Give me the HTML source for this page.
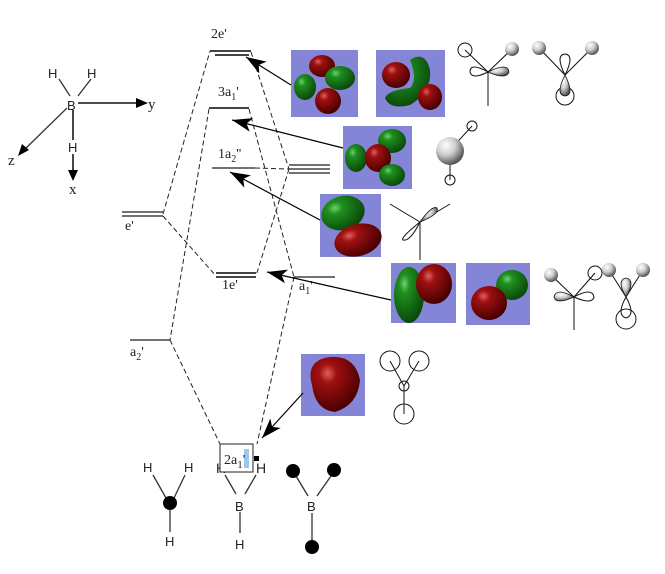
<!DOCTYPE html>
<html><head><meta charset="utf-8"><style>
html,body{margin:0;padding:0;background:#fff;}
svg{display:block;}
text{font-family:"Liberation Serif",serif;fill:#222;}
.s{font-family:"Liberation Sans",sans-serif;}
</style></head><body>
<svg width="665" height="574" viewBox="0 0 665 574" xmlns="http://www.w3.org/2000/svg">
<defs>
<radialGradient id="r" cx="35%" cy="30%" r="70%"><stop offset="0" stop-color="#e06060"/><stop offset="0.25" stop-color="#a01010"/><stop offset="1" stop-color="#4a0000"/></radialGradient>
<radialGradient id="g" cx="35%" cy="30%" r="70%"><stop offset="0" stop-color="#70d070"/><stop offset="0.25" stop-color="#1f8f1f"/><stop offset="1" stop-color="#0a4a0a"/></radialGradient>
<radialGradient id="w" cx="35%" cy="30%" r="70%"><stop offset="0" stop-color="#fff"/><stop offset="0.5" stop-color="#ccc"/><stop offset="1" stop-color="#555"/></radialGradient>
<marker id="ah" markerWidth="22" markerHeight="14" refX="20" refY="7" orient="auto" markerUnits="userSpaceOnUse"><path d="M0,0 L20,7 L0,14 L5,7 Z" fill="#000"/></marker>
</defs>

<!-- axes -->
<g stroke="#333" stroke-width="1.3" fill="none">
<line x1="59" y1="79" x2="70" y2="96"/><line x1="91" y1="79" x2="78" y2="96"/>
<line x1="78" y1="103" x2="138" y2="103" stroke-width="1.8"/>
<line x1="67" y1="108" x2="24" y2="150"/>
<line x1="73" y1="110" x2="73" y2="140" stroke-width="1.8"/>
<line x1="73" y1="154" x2="73" y2="170" stroke-width="1.8"/>
</g>
<path d="M136,98 L148,103 L136,108 Z" fill="#000"/>
<path d="M68,170 L73,181 L78,170 Z" fill="#000"/>
<path d="M18,156 L22,144 L29,150 Z" fill="#000"/>
<text class="s" x="48" y="78" font-size="13">H</text><text class="s" x="87" y="78" font-size="13">H</text>
<text class="s" x="67" y="110" font-size="13">B</text>
<text class="s" x="68" y="152" font-size="13">H</text>
<text x="148" y="109" font-size="15">y</text><text x="8" y="165" font-size="15">z</text><text x="69" y="194" font-size="15">x</text>

<!-- levels -->
<g stroke="#444" stroke-width="2">
<line x1="210" y1="51" x2="251" y2="51"/><line x1="215" y1="55" x2="249" y2="55"/>
<line x1="209" y1="108" x2="249" y2="108"/>
<line x1="212" y1="168" x2="255" y2="168" stroke-width="1.5"/>
<line x1="289" y1="165" x2="330" y2="165" stroke-width="1.5"/><line x1="289" y1="169" x2="330" y2="169" stroke-width="1.5"/><line x1="289" y1="173" x2="330" y2="173" stroke-width="1.5"/>
<line x1="122" y1="212" x2="163" y2="212" stroke-width="1.5"/><line x1="122" y1="216" x2="163" y2="216" stroke-width="1.5"/>
<line x1="216" y1="273" x2="256" y2="273"/><line x1="216" y1="277" x2="256" y2="277"/>
<line x1="294" y1="277" x2="335" y2="277" stroke-width="1.5"/>
<line x1="130" y1="340" x2="170" y2="340" stroke-width="1.5"/>
</g>
<text x="211" y="38" font-size="14">2e'</text>
<text x="218" y="96" font-size="14">3a<tspan font-size="10" dy="4">1</tspan><tspan dy="-4">'</tspan></text>
<text x="218" y="158" font-size="14">1a<tspan font-size="10" dy="4">2</tspan><tspan dy="-4">''</tspan></text>
<text x="125" y="230" font-size="14">e'</text>
<text x="222" y="289" font-size="14">1e'</text>
<text x="299" y="290" font-size="14">a<tspan font-size="10" dy="4">1</tspan><tspan dy="-4">'</tspan></text>
<text x="130" y="356" font-size="14">a<tspan font-size="10" dy="4">2</tspan><tspan dy="-4">'</tspan></text>

<!-- dashed -->
<g stroke="#222" stroke-width="1" stroke-dasharray="5,3" fill="none">
<line x1="163" y1="214" x2="210" y2="51"/>
<line x1="163" y1="216" x2="216" y2="276"/>
<line x1="251" y1="52" x2="289" y2="169"/>
<line x1="289" y1="169" x2="256" y2="276"/>
<line x1="255" y1="168" x2="289" y2="169"/>
<line x1="249" y1="109" x2="294" y2="277"/>
<line x1="294" y1="277" x2="257" y2="444"/>
<line x1="209" y1="109" x2="170" y2="340"/>
<line x1="170" y1="340" x2="220" y2="444"/>
</g>

<!-- boxes -->
<g fill="#8585d8">
<rect x="291" y="50" width="67" height="67"/>
<rect x="376" y="50" width="69" height="67"/>
<rect x="343" y="126" width="69" height="63"/>
<rect x="320" y="194" width="61" height="63"/>
<rect x="391" y="263" width="65" height="60"/>
<rect x="466" y="263" width="64" height="62"/>
<rect x="301" y="354" width="64" height="62"/>
</g>
<!-- box A -->
<ellipse cx="322" cy="66" rx="13" ry="11" fill="url(#r)"/>
<ellipse cx="340" cy="78" rx="15" ry="12" fill="url(#g)"/>
<ellipse cx="305" cy="87" rx="11" ry="13" fill="url(#g)"/>
<ellipse cx="328" cy="101" rx="13" ry="13" fill="url(#r)"/>
<!-- box B -->
<ellipse cx="396" cy="75" rx="14" ry="13" fill="url(#r)"/>
<path d="M410,60 Q425,50 430,70 Q432,92 410,105 Q390,110 385,98 Q388,90 410,88 Q418,80 410,60 Z" fill="url(#g)"/>
<ellipse cx="430" cy="97" rx="12" ry="13" fill="url(#r)"/>
<!-- box C -->
<ellipse cx="392" cy="141" rx="14" ry="12" fill="url(#g)"/>
<ellipse cx="356" cy="158" rx="11" ry="14" fill="url(#g)"/>
<ellipse cx="378" cy="158" rx="13" ry="14" fill="url(#r)"/>
<ellipse cx="392" cy="175" rx="13" ry="11" fill="url(#g)"/>
<!-- box D -->
<ellipse cx="343" cy="213" rx="22" ry="17" fill="url(#g)" transform="rotate(-15 343 213)"/>
<ellipse cx="358" cy="240" rx="24" ry="16" fill="url(#r)" transform="rotate(-15 358 240)"/>
<!-- box E -->
<ellipse cx="409" cy="295" rx="15" ry="28" fill="url(#g)"/>
<ellipse cx="434" cy="284" rx="18" ry="20" fill="url(#r)"/>
<!-- box F -->
<ellipse cx="512" cy="285" rx="16" ry="15" fill="url(#g)"/>
<ellipse cx="489" cy="303" rx="18" ry="17" fill="url(#r)"/>
<!-- box G -->
<path d="M312,385 Q305,360 330,357 Q355,355 360,380 Q358,405 335,412 Q315,410 312,385 Z" fill="url(#r)"/>

<!-- arrows -->
<g stroke="#000" stroke-width="1.2" marker-end="url(#ah)">
<line x1="291" y1="85" x2="246" y2="57"/>
<line x1="343" y1="148" x2="232" y2="120"/>
<line x1="320" y1="220" x2="230" y2="172"/>
<line x1="391" y1="300" x2="267" y2="272"/>
<line x1="303" y1="393" x2="262" y2="438"/>
</g>

<!-- 2a1' box -->
<text class="s" x="216" y="473" font-size="14">H</text><text class="s" x="256" y="473" font-size="14">H</text>
<rect x="220" y="444" width="33" height="28" fill="#fff" stroke="#222" stroke-width="1"/>
<rect x="244" y="449" width="5" height="19" fill="#9cc8f0"/>
<text x="224" y="464" font-size="14">2a<tspan font-size="11" dy="4">1</tspan><tspan dy="-4">'</tspan></text>
<rect x="254" y="456" width="5" height="5" fill="#000"/>

<!-- bottom molecules -->
<g stroke="#333" stroke-width="1.3">
<line x1="153" y1="475" x2="166" y2="498"/><line x1="185" y1="475" x2="174" y2="498"/><line x1="170" y1="503" x2="170" y2="532"/>
<line x1="225" y1="475" x2="236" y2="494"/><line x1="256" y1="475" x2="245" y2="494"/><line x1="240" y1="512" x2="240" y2="533"/>
<line x1="296" y1="476" x2="308" y2="496"/><line x1="331" y1="476" x2="317" y2="496"/><line x1="312" y1="513" x2="312" y2="545"/>
</g>
<text class="s" x="143" y="472" font-size="13">H</text><text class="s" x="184" y="472" font-size="13">H</text>
<circle cx="170" cy="503" r="7" fill="#000"/>
<text class="s" x="165" y="546" font-size="13">H</text>
<text class="s" x="235" y="511" font-size="13">B</text><text class="s" x="235" y="549" font-size="13">H</text>
<circle cx="293" cy="471" r="7" fill="#000"/><circle cx="334" cy="470" r="7" fill="#000"/>
<text class="s" x="307" y="511" font-size="13">B</text>
<circle cx="312" cy="547" r="7" fill="#000"/>

<!-- right sketches -->
<g stroke="#111" stroke-width="1" fill="none">
<line x1="465" y1="50" x2="488" y2="72"/><line x1="512" y1="49" x2="488" y2="72"/><line x1="488" y1="72" x2="488" y2="106"/>
<circle cx="465" cy="50" r="7"/>
<path d="M488,72 Q470,62 470,72 Q472,80 488,72 Z"/>
</g>
<path d="M488,72 Q508,62 509,72 Q506,80 488,72 Z" fill="url(#w)" stroke="#111" stroke-width="0.8"/>
<circle cx="512" cy="49" r="7" fill="url(#w)"/>
<g stroke="#111" stroke-width="1" fill="none">
<line x1="539" y1="48" x2="565" y2="75"/><line x1="592" y1="48" x2="565" y2="75"/>
<path d="M565,75 Q555,55 565,54 Q575,55 565,75 Z"/>
<circle cx="565" cy="96" r="9"/>
</g>
<path d="M565,75 Q555,95 565,96 Q575,95 565,75 Z" fill="url(#w)" stroke="#111" stroke-width="0.8"/>
<circle cx="539" cy="48" r="7" fill="url(#w)"/><circle cx="592" cy="48" r="7" fill="url(#w)"/>
<g stroke="#111" stroke-width="1" fill="none">
<line x1="472" y1="126" x2="450" y2="150"/><line x1="450" y1="160" x2="450" y2="180"/>
<circle cx="472" cy="126" r="5"/><circle cx="450" cy="180" r="5"/>
</g>
<circle cx="450" cy="151" r="14" fill="url(#w)"/>
<g stroke="#111" stroke-width="1" fill="none">
<line x1="390" y1="204" x2="420" y2="222"/><line x1="450" y1="204" x2="420" y2="222"/><line x1="420" y1="222" x2="420" y2="260"/>
<path d="M420,222 Q400,238 403,240 Q410,242 420,222 Z"/>
</g>
<path d="M420,222 Q432,205 437,208 Q440,214 420,222 Z" fill="url(#w)" stroke="#111" stroke-width="0.8"/>
<g stroke="#111" stroke-width="1" fill="none">
<line x1="551" y1="275" x2="574" y2="297"/><line x1="595" y1="273" x2="574" y2="297"/><line x1="574" y1="297" x2="574" y2="330"/>
<circle cx="595" cy="273" r="7"/>
<path d="M574,297 Q592,287 594,297 Q592,305 574,297 Z"/>
</g>
<path d="M574,297 Q556,287 554,297 Q556,305 574,297 Z" fill="url(#w)" stroke="#111" stroke-width="0.8"/>
<circle cx="551" cy="275" r="7" fill="url(#w)"/>
<g stroke="#111" stroke-width="1" fill="none">
<line x1="609" y1="270" x2="626" y2="297"/><line x1="643" y1="270" x2="626" y2="297"/>
<path d="M626,297 Q616,315 626,318 Q636,315 626,297 Z"/>
<circle cx="626" cy="319" r="10"/>
</g>
<path d="M626,297 Q616,280 626,278 Q636,280 626,297 Z" fill="url(#w)" stroke="#111" stroke-width="0.8"/>
<circle cx="609" cy="270" r="7" fill="url(#w)"/><circle cx="643" cy="270" r="7" fill="url(#w)"/>
<g stroke="#111" stroke-width="1" fill="none">
<circle cx="390" cy="361" r="10"/><circle cx="419" cy="361" r="10"/><circle cx="404" cy="386" r="5"/><circle cx="404" cy="414" r="10"/>
<line x1="390" y1="361" x2="404" y2="386"/><line x1="419" y1="361" x2="404" y2="386"/><line x1="404" y1="386" x2="404" y2="414"/>
</g>
</svg>
</body></html>
